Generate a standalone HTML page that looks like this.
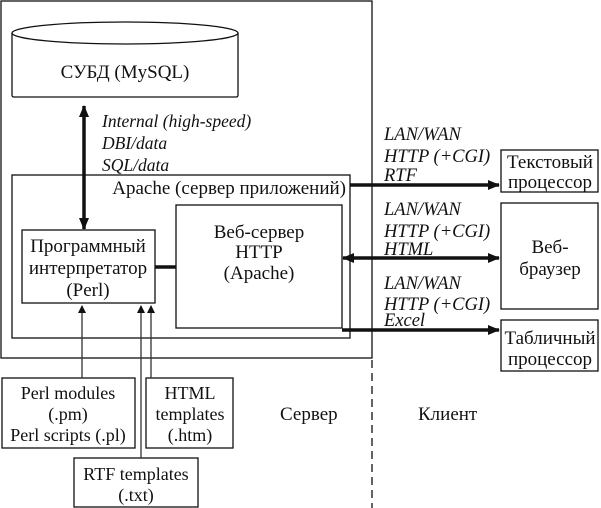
<!DOCTYPE html>
<html><head><meta charset="utf-8"><style>
html,body{margin:0;padding:0;background:#fff;}
svg{display:block;}
text{font-family:"Liberation Serif",serif;font-size:19px;fill:#111;}
.i{font-style:italic;}
text.s1{font-size:17.5px;}
text.s2{font-size:18.5px;}
text.s3{font-size:18px;}
</style></head><body>
<svg width="601" height="508" viewBox="0 0 601 508" xmlns="http://www.w3.org/2000/svg">
<defs>
<marker id="a" markerWidth="12" markerHeight="10" refX="11" refY="5" orient="auto-start-reverse" markerUnits="userSpaceOnUse"><path d="M0,0 L12,5 L0,10 Z" fill="#111"/></marker>
<marker id="s" markerWidth="8" markerHeight="10" refX="7" refY="5" orient="auto" markerUnits="userSpaceOnUse"><path d="M0,1 L8,5 L0,9 Z" fill="#111"/></marker>
</defs>
<g fill="none" stroke="#111" stroke-width="1.3">
<rect x="1" y="1" width="371" height="357"/>
<path d="M12,33 L12,95 Q12,97 14,97 L236,97 Q238,97 238,95 L238,33"/>
<ellipse cx="125" cy="33" rx="113" ry="11" fill="#fff"/>
<rect x="12" y="175" width="338" height="163"/>
<rect x="176" y="205" width="166" height="123"/>
<rect x="22" y="230" width="133" height="73"/>
<rect x="501" y="150" width="97" height="42"/>
<rect x="501" y="203" width="97" height="106"/>
<rect x="501" y="320" width="97" height="51"/>
<rect x="2" y="378" width="133" height="70"/>
<rect x="146" y="378" width="87" height="70"/>
<rect x="74" y="458" width="124" height="49"/>
<line x1="372" y1="360" x2="372" y2="508" stroke-dasharray="8,5"/>
</g>
<g stroke="#111" stroke-width="3.5" fill="none">
<line x1="84" y1="106" x2="84" y2="229" marker-start="url(#a)" marker-end="url(#a)"/>
<line x1="155" y1="267" x2="176" y2="267"/>
<line x1="350" y1="185" x2="499" y2="185" marker-end="url(#a)"/>
<line x1="343" y1="258" x2="499" y2="258" marker-start="url(#a)" marker-end="url(#a)"/>
<line x1="342" y1="330" x2="499" y2="330" marker-end="url(#a)"/>
</g>
<g stroke="#333" stroke-width="1.3" fill="none">
<line x1="82" y1="378" x2="82" y2="306" marker-end="url(#s)"/>
<line x1="141" y1="458" x2="141" y2="306" marker-end="url(#s)"/>
<line x1="151" y1="378" x2="151" y2="306" marker-end="url(#s)"/>
</g>
<text x="125" y="78" text-anchor="middle">СУБД (MySQL)</text>
<text class="i s1" x="102" y="127">Internal (high-speed)</text>
<text class="i s1" x="102" y="149">DBI/data</text>
<text class="i s1" x="102" y="171">SQL/data</text>
<text x="346" y="194" text-anchor="end">Apache (сервер приложений)</text>
<text x="259" y="238" text-anchor="middle">Веб-сервер</text>
<text x="259" y="258" text-anchor="middle">HTTP</text>
<text x="259" y="279" text-anchor="middle">(Apache)</text>
<text x="88" y="252" text-anchor="middle">Программный</text>
<text x="88" y="274" text-anchor="middle">интерпретатор</text>
<text x="88" y="296" text-anchor="middle">(Perl)</text>
<text class="i s2" x="384" y="140">LAN/WAN</text>
<text class="i s2" x="384" y="162">HTTP (+CGI)</text>
<text class="i s2" x="384" y="181">RTF</text>
<text class="i s2" x="384" y="215">LAN/WAN</text>
<text class="i s2" x="384" y="237">HTTP (+CGI)</text>
<text class="i s2" x="384" y="255">HTML</text>
<text class="i s2" x="384" y="289">LAN/WAN</text>
<text class="i s2" x="384" y="310">HTTP (+CGI)</text>
<text class="i s2" x="384" y="326">Excel</text>
<text x="550" y="168" text-anchor="middle">Текстовый</text>
<text x="550" y="188" text-anchor="middle">процессор</text>
<text x="550" y="253" text-anchor="middle">Веб-</text>
<text x="550" y="275" text-anchor="middle">браузер</text>
<text x="550" y="344" text-anchor="middle">Табличный</text>
<text x="550" y="365" text-anchor="middle">процессор</text>
<text class="s3" x="68" y="399" text-anchor="middle">Perl modules</text>
<text class="s3" x="68" y="420" text-anchor="middle">(.pm)</text>
<text class="s3" x="68" y="441" text-anchor="middle">Perl scripts (.pl)</text>
<text class="s3" x="190" y="399" text-anchor="middle">HTML</text>
<text class="s3" x="190" y="420" text-anchor="middle">templates</text>
<text class="s3" x="190" y="441" text-anchor="middle">(.htm)</text>
<text class="s3" x="136" y="480" text-anchor="middle">RTF templates</text>
<text class="s3" x="136" y="501" text-anchor="middle">(.txt)</text>
<text x="280" y="420">Сервер</text>
<text x="418" y="420">Клиент</text>
</svg>
</body></html>
